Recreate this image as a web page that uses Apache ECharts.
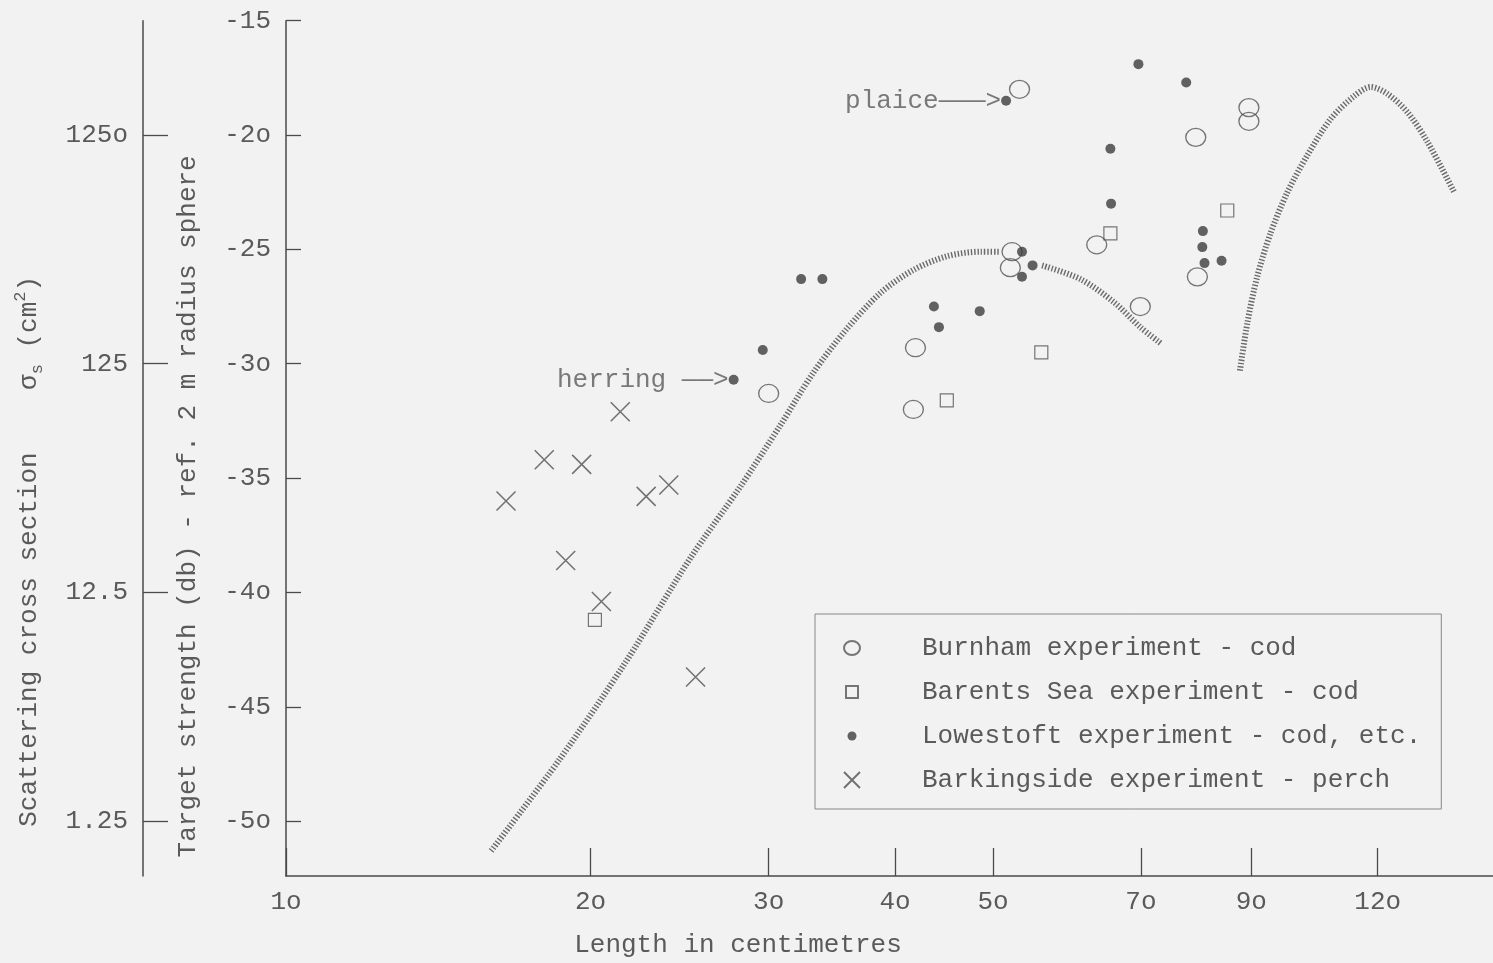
<!DOCTYPE html>
<html>
<head>
<meta charset="utf-8">
<title>Target strength against length</title>
<script src="https://cdn.jsdelivr.net/npm/echarts@6/dist/echarts.min.js"></script>
<style>
html, body { margin: 0; padding: 0; background: #f2f2f2; }
#chart { width: 1493px; height: 963px; }
</style>
</head>
<body>
<div id="chart"></div>
<script>
// tick values and the typed labels (typewriter "o" for zero)
var lengthTicks = [10, 20, 30, 40, 50, 70, 90, 120];
var lengthTickLabels = ['1o', '2o', '3o', '4o', '5o', '7o', '9o', '12o'];
var dbTicks = [-50, -45, -40, -35, -30, -25, -20, -15];
var dbTickLabels = ['-5o', '-45', '-4o', '-35', '-3o', '-25', '-2o', '-15'];
var sigmaTicksDb = [-50, -40, -30, -20];
var sigmaTickLabels = ['1.25', '12.5', '125', '125o'];

// Burnham experiment - cod (open circles)
var burnhamLen = [30.0, 53.1, 89.5, 89.5, 79.3, 63.3, 79.6, 69.9, 52.2, 52.0, 41.9, 41.7];
var burnhamDb  = [-31.3, -18.0, -18.8, -19.4, -20.1, -24.8, -26.2, -27.5, -25.1, -25.8, -29.3, -32.0];

// Barents Sea experiment - cod (open squares)
var barentsLen = [20.2, 85.2, 65.3, 55.8, 45.0];
var barentsDb  = [-41.2, -23.3, -24.3, -29.5, -31.6];

// Lowestoft experiment - cod, etc. (dots)
var lowestoftLen = [27.7, 29.6, 51.5, 69.6, 77.6, 65.3, 65.4, 80.6, 80.5, 80.9, 84.1, 53.4, 54.7, 53.4, 32.3, 33.9, 43.7, 44.2, 48.5];
var lowestoftDb  = [-30.7, -29.4, -18.5, -16.9, -17.7, -20.6, -23.0, -24.2, -24.9, -25.6, -25.5, -25.1, -25.7, -26.2, -26.3, -26.3, -27.5, -28.4, -27.7];

// Barkingside experiment - perch (crosses)
var barkingLen = [16.5, 18.0, 19.6, 21.4, 22.7, 23.9, 18.9, 20.5, 25.4];
var barkingDb  = [-36.0, -34.2, -34.4, -32.1, -35.8, -35.3, -38.6, -40.4, -43.7];

// hatched curves ('-' = the pen lifted where the marks sit)
var curve1Len = [15.95, 18.64, 21.7, 25.1, 28.1, 30.8, 33.2, 35.8, 38.7, 41.7, 45.0, 48.6, 50.8, 53.0, 55.9, 61.0, 65.8, 69.9, 73.2];
var curve1Db  = [-51.3, -47.3, -43.0, -38.5, -35.4, -32.7, -30.4, -28.5, -26.9, -25.9, -25.3, -25.1, -25.1, '-', -25.7, -26.3, -27.3, -28.4, -29.1];
var curve2Len = [87.7, 89.2, 91.2, 94.0, 97.7, 102.2, 107.8, 113.7, 118.1, 122.7, 128.4, 134.4, 142.8];
var curve2Db  = [-30.3, -28.2, -26.2, -24.3, -22.5, -20.9, -19.3, -18.3, -17.9, -18.2, -19.0, -20.3, -22.5];

// arrows pointing at single fish
var noteLen = [27.7, 51.5];
var noteDb = [-30.7, -18.5];
var noteText = ['herring \u2014\u2014>', 'plaice\u2014\u2014\u2014>'];

var seriesNames = ['Burnham experiment - cod', 'Barents Sea experiment - cod',
    'Lowestoft experiment - cod, etc.', 'Barkingside experiment - perch'];

var xMin = 10, xMax = 156;
var yMin = -52.4, yMax = -15;

var FONT = "'Liberation Mono', 'DejaVu Sans Mono', monospace";
var INK = '#4a4a4a';
var TEXT = '#5a5a5a';

function pairs(xs, ys) {
    var out = [];
    for (var i = 0; i < xs.length; i++) {
        out.push([xs[i], ys[i]]);
    }
    return out;
}

function lookup(ticks, labels) {
    return function (v) {
        for (var i = 0; i < ticks.length; i++) {
            if (Math.abs(ticks[i] - v) < 0.01) return labels[i];
        }
        return '';
    };
}

var dom = document.getElementById('chart');
var myChart = echarts.init(dom);

var notes = [];
for (var i = 0; i < noteLen.length; i++) {
    notes.push({ value: [noteLen[i], noteDb[i]], label: { formatter: noteText[i] } });
}

var hatch = {
    color: '#6a6a6a',
    width: 6,
    type: [1.4, 1.9]
};

var option = {
    backgroundColor: '#f2f2f2',
    animation: false,
    textStyle: { fontFamily: FONT },
    grid: { left: 286, right: 0, top: 20.7, bottom: 85.3 },
    legend: {
        orient: 'vertical',
        left: 815,
        top: 614,
        padding: [21, 20, 16, 26],
        itemGap: 18,
        itemWidth: 20,
        itemHeight: 20,
        borderColor: '#888',
        borderWidth: 1,
        selectedMode: false,
        textStyle: { fontFamily: FONT, fontSize: 26, color: TEXT, lineHeight: 25, padding: [0, 0, 0, 55] },
        data: [
            { name: seriesNames[0], icon: 'path://M0,0M20,20M2,10a8,7 0 1,0 16,0a8,7 0 1,0 -16,0z' },
            { name: seriesNames[1], icon: 'path://M0,0M20,20M4,4L16,4L16,16L4,16Z' },
            { name: seriesNames[2], icon: 'path://M0,0M20,20M5.5,10a4.5,4.5 0 1,0 9,0a4.5,4.5 0 1,0 -9,0z' },
            { name: seriesNames[3], icon: 'path://M0,0M20,20M2,2L18,18M18,2L2,18' }
        ]
    },
    xAxis: {
        type: 'log',
        logBase: 10,
        min: xMin,
        max: xMax,
        name: 'Length in centimetres',
        nameLocation: 'middle',
        nameGap: 56,
        nameTextStyle: { fontFamily: FONT, fontSize: 26, color: TEXT, padding: [0, 303, 0, 0] },
        axisLine: { lineStyle: { color: INK, width: 1.5 } },
        axisTick: { inside: true, length: 28, customValues: lengthTicks, lineStyle: { color: INK, width: 1.3 } },
        axisLabel: {
            customValues: lengthTicks,
            margin: 13,
            fontFamily: FONT, fontSize: 26, color: TEXT,
            formatter: lookup(lengthTicks, lengthTickLabels)
        },
        splitLine: { show: false },
        minorTick: { show: false }
    },
    yAxis: [{
        type: 'value',
        min: yMin,
        max: yMax,
        name: 'Target strength (db) - ref. 2 m radius sphere',
        nameLocation: 'middle',
        nameGap: 85,
        nameTextStyle: { fontFamily: FONT, fontSize: 26, color: TEXT, padding: [0, 116, 0, 0] },
        axisLine: { show: true, onZero: false, lineStyle: { color: INK, width: 1.5 } },
        axisTick: { show: true, inside: true, length: 15, customValues: dbTicks, lineStyle: { color: INK, width: 1.3 } },
        axisLabel: {
            customValues: dbTicks,
            margin: 15,
            fontFamily: FONT, fontSize: 26, color: TEXT,
            formatter: lookup(dbTicks, dbTickLabels)
        },
        splitLine: { show: false }
    }, {
        type: 'value',
        position: 'left',
        offset: 143,
        min: yMin,
        max: yMax,
        name: 'Scattering cross section    \u03c3{sub|s} (cm{sup|2})',
        nameLocation: 'middle',
        nameGap: 97,
        nameTextStyle: {
            fontFamily: FONT, fontSize: 26, color: TEXT, lineHeight: 34, padding: [0, 206, 0, 0],
            rich: {
                sub: { fontFamily: FONT, fontSize: 17, color: TEXT, lineHeight: 17, verticalAlign: 'bottom' },
                sup: { fontFamily: FONT, fontSize: 17, color: TEXT, lineHeight: 17, verticalAlign: 'top' }
            }
        },
        axisLine: { show: true, onZero: false, lineStyle: { color: INK, width: 1.5 } },
        axisTick: { show: true, inside: true, length: 25, customValues: sigmaTicksDb, lineStyle: { color: INK, width: 1.3 } },
        axisLabel: {
            customValues: sigmaTicksDb,
            margin: 15,
            fontFamily: FONT, fontSize: 26, color: TEXT,
            formatter: lookup(sigmaTicksDb, sigmaTickLabels)
        },
        splitLine: { show: false }
    }],
    series: [{
        type: 'line',
        data: pairs(curve1Len, curve1Db),
        showSymbol: false,
        smooth: 0.3,
        silent: true,
        lineStyle: hatch,
        z: 1
    }, {
        type: 'line',
        data: pairs(curve2Len, curve2Db),
        showSymbol: false,
        smooth: 0.3,
        silent: true,
        lineStyle: hatch,
        z: 1
    }, {
        name: seriesNames[0],
        type: 'scatter',
        data: pairs(burnhamLen, burnhamDb),
        symbol: 'circle',
        symbolSize: [20, 18],
        itemStyle: { color: 'rgba(0,0,0,0)', borderColor: '#555', borderWidth: 1.3 },
        z: 3
    }, {
        name: seriesNames[1],
        type: 'scatter',
        data: pairs(barentsLen, barentsDb),
        symbol: 'rect',
        symbolSize: 13,
        itemStyle: { color: 'rgba(0,0,0,0)', borderColor: '#555', borderWidth: 1.2 },
        z: 3
    }, {
        name: seriesNames[2],
        type: 'scatter',
        data: pairs(lowestoftLen, lowestoftDb),
        symbol: 'circle',
        symbolSize: 10,
        itemStyle: { color: '#3c3c3c' },
        z: 4
    }, {
        name: seriesNames[3],
        type: 'scatter',
        data: pairs(barkingLen, barkingDb),
        symbol: 'path://M0,0L20,20M20,0L0,20',
        symbolSize: 19,
        itemStyle: { color: 'rgba(0,0,0,0)', borderColor: '#505050', borderWidth: 1.5 },
        z: 3
    }, {
        type: 'scatter',
        data: notes,
        symbolSize: 0,
        silent: true,
        label: {
            show: true,
            position: 'left',
            distance: 5,
            fontFamily: FONT,
            fontSize: 26,
            color: TEXT
        },
        z: 5
    }]
};

myChart.setOption(option);
window.addEventListener('resize', function () {
    myChart.resize();
});
</script>
</body>
</html>
